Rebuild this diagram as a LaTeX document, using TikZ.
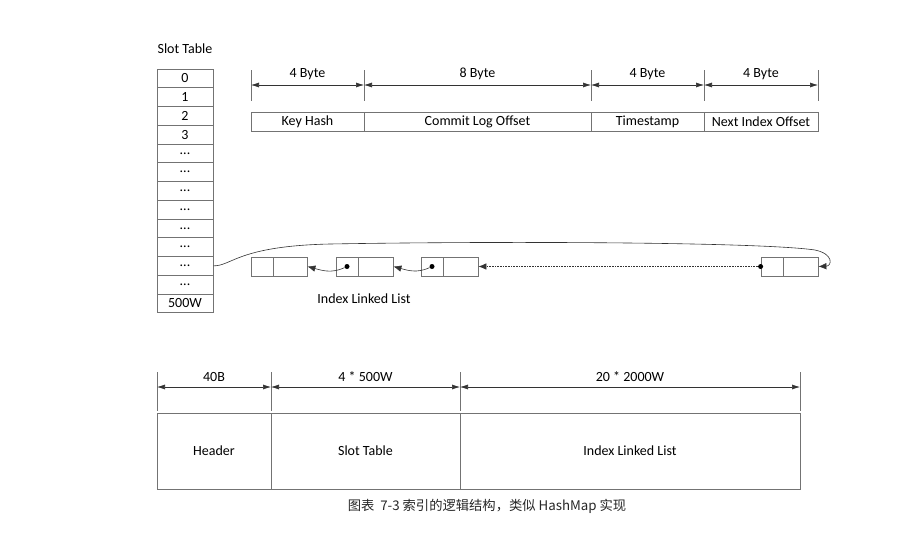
\documentclass[tikz,border=0pt]{standalone}
\usepackage{fontspec}
\setmainfont{Carlito}
\newfontfamily\cjk{Noto Sans CJK SC}
\usetikzlibrary{arrows.meta}
\newcommand\tdots{...}
\begin{document}
\begin{tikzpicture}[x=1pt,y=-1pt,
  font=\fontsize{14}{16}\selectfont,
  box/.style={draw=black!55, line width=0.8pt, inner sep=0pt, minimum height=18.75pt},
  slot/.style={box, minimum width=56pt},
  fld/.style={box, minimum height=19pt},
  lcell/.style={box, minimum height=19pt},
  tick/.style={draw=black!55, line width=0.8pt},
  dim/.style={draw=black!80, line width=0.6pt, {Latex[length=8pt,width=5pt]}-{Latex[length=8pt,width=5pt]}},
  ptr/.style={draw=black!80, line width=0.6pt, -{Latex[length=8pt,width=6.5pt]}},
  dot/.style={circle, fill=black, inner sep=0pt, minimum size=5pt}
]
\useasboundingbox (0,0) rectangle (924,541);

% Slot table
\node (title) at (185,49) {Slot Table};
\foreach \i/\t in {0/0,1/1,2/2,3/3,4/\tdots,5/\tdots,6/\tdots,7/\tdots,8/\tdots,9/\tdots,10/\tdots,11/\tdots,12/500W}{
  \node[slot] (s\i) at (185,{69+18.75*\i+9.375}) {\t};
}

% Top fields
\node[fld, minimum width=113pt] (kh) at (307.5,121.5) {Key Hash};
\node[fld, minimum width=227pt] (cl) at (477.5,121.5) {Commit Log Offset};
\node[fld, minimum width=113pt] (ts) at (647.5,121.5) {Timestamp};
\node[fld, minimum width=114pt] (ni) at (761,121.5) {Next Index Offset};

\foreach \n/\x in {a/251,b/364,c/591,d/704,e/818}{
  \coordinate (tt\n) at (\x,70);
  \coordinate (tb\n) at (\x,101);
  \coordinate (tm\n) at (\x,85);
  \draw[tick] (tt\n) -- (tb\n);
}
\draw[dim] (tma) -- node[above=2pt] (l1) {4 Byte} (tmb);
\draw[dim] (tmb) -- node[above=2pt] (l2) {8 Byte} (tmc);
\draw[dim] (tmc) -- node[above=2pt] (l3) {4 Byte} (tmd);
\draw[dim] (tmd) -- node[above=2pt] (l4) {4 Byte} (tme);

% Linked list
\node[lcell, minimum width=22pt] (n1a) at (262,266.5) {};
\node[lcell, minimum width=34pt] (n1b) at (290,266.5) {};
\node[lcell, minimum width=22pt] (n2a) at (347,266.5) {};
\node[lcell, minimum width=35pt] (n2b) at (375.5,266.5) {};
\node[lcell, minimum width=22pt] (n3a) at (432,266.5) {};
\node[lcell, minimum width=35pt] (n3b) at (460.5,266.5) {};
\node[lcell, minimum width=22pt] (n4a) at (772,266.5) {};
\node[lcell, minimum width=35pt] (n4b) at (800.5,266.5) {};

\node[dot] (d2) at (n2a.center) {};
\node[dot] (d3) at (n3a.center) {};
\node[dot] (d4) at (n4a.west) {};

\draw[ptr] (d2) to[out=205,in=-15] (n1b.east);
\draw[ptr] (d3) to[out=205,in=-15] (n2b.east);
\draw[ptr, densely dotted] (d4) -- (n3b.east);

\coordinate (c1) at (330,244);
\draw[ptr] (s10.east) .. controls (232,266) and (238,246) .. (c1)
  .. controls (500,241) and (760,242) .. (815,250)
  .. controls (834,254) and (832,266) .. (n4b.east);

\node (lll) at (364,299) {Index Linked List};

% Bottom layout
\node[box, minimum width=114pt, minimum height=76pt] (hd) at (214,451) {Header};
\node[box, minimum width=189pt, minimum height=76pt] (st) at (365.5,451) {Slot Table};
\node[box, minimum width=340pt, minimum height=76pt] (il) at (630,451) {Index Linked List};

\foreach \n/\x in {a/157,b/271,c/460,d/800}{
  \coordinate (ut\n) at (\x,372);
  \coordinate (ub\n) at (\x,411);
  \coordinate (um\n) at (\x,387);
  \draw[tick] (ut\n) -- (ub\n);
}
\draw[dim] (uma) -- node[above=2pt] (m1) {40B} (umb);
\draw[dim] (umb) -- node[above=2pt] (m2) {4 * 500W} (umc);
\draw[dim] (umc) -- node[above=2pt] (m3) {20 * 2000W} (umd);

% Caption
\node[font=\cjk\fontsize{13.3}{15}\selectfont, text=black!85] (cap) at (487,506) {图表\ \ 7-3 索引的逻辑结构，类似 HashMap 实现};
\end{tikzpicture}
\end{document}
